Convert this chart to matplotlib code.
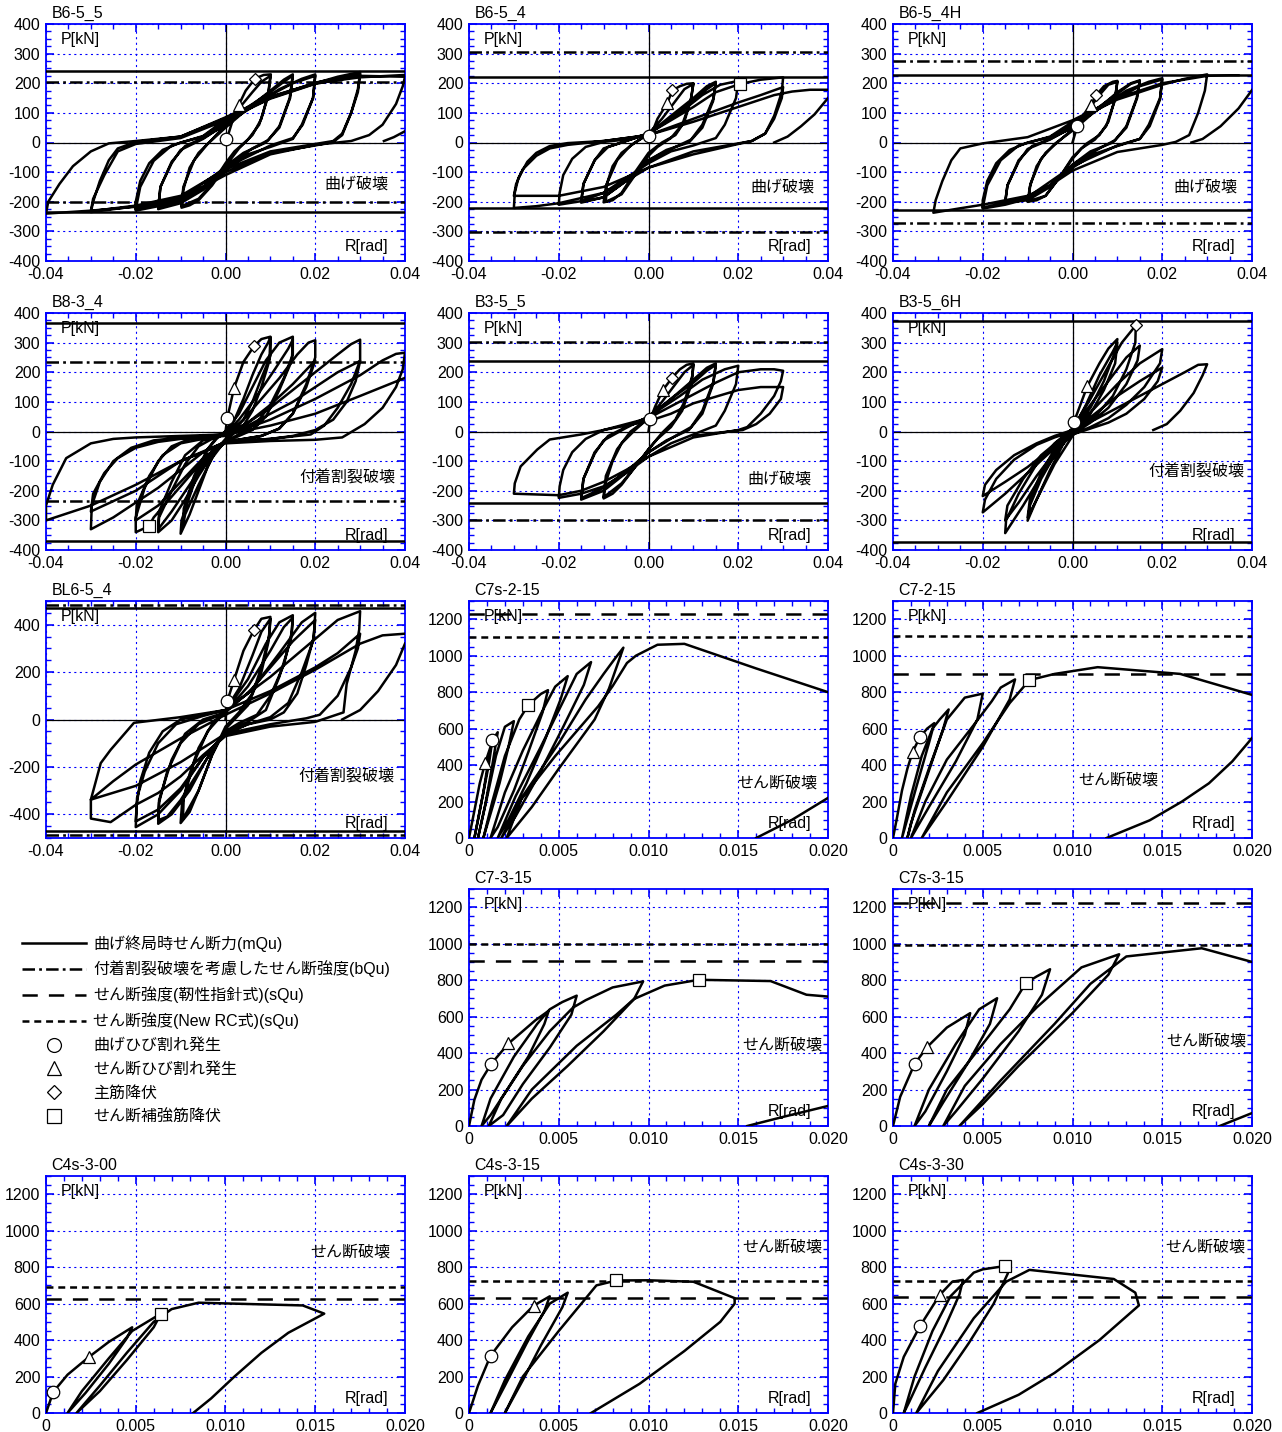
import numpy as np
import matplotlib
matplotlib.use("Agg")
import matplotlib.pyplot as plt
from matplotlib.ticker import MultipleLocator, FuncFormatter
from matplotlib.lines import Line2D

plt.rcParams['font.family'] = ['Liberation Sans', 'Noto Sans CJK JP', 'DejaVu Sans']
plt.rcParams['lines.scale_dashes'] = False
plt.rcParams['axes.unicode_minus'] = False

BRK = (np.nan, np.nan)

# ------------------------------------------------------------------ data
B6_5_5_curve = [
    (0, 0), (0.0003, 12), (0.0015, 70), (0.0029, 125), (0.0045, 175), (0.0066, 216), (0.0085, 228), (0.0101, 230),
    (0.0096, 170), (0.008, 80), (0.006, 25), (0.003, -20), (0, -80), (-0.003, -145), (-0.006, -195), (-0.008, -212), (-0.0098, -220),
    (-0.0094, -160), (-0.008, -85), (-0.006, -35), (-0.003, 10), (0, 60), (0.003, 115), (0.006, 170), (0.008, 205), (0.01, 225),
    (0.0094, 150), (0.0075, 60), (0.005, 10), (0.002, -30), (0, -70), (-0.003, -140), (-0.006, -190), (-0.0098, -215),
    (-0.0094, -150), (-0.007, -60), (-0.004, -5), (0, 50), (0.005, 115), (0.01, 175), (0.013, 212), (0.015, 230),
    (0.0143, 150), (0.012, 55), (0.0095, 8), (0.006, -20), (0, -85), (-0.005, -160), (-0.01, -205), (-0.015, -225),
    (-0.0145, -150), (-0.012, -65), (-0.009, -12), (-0.005, 15), (0, 60), (0.005, 120), (0.01, 170), (0.013, 205), (0.015, 226),
    (0.0144, 150), (0.012, 50), (0.009, 0), (0.004, -35), (0, -80), (-0.005, -150), (-0.01, -198), (-0.015, -220),
    (-0.0145, -150), (-0.012, -70), (-0.01, -25), (-0.005, 12), (0, 62), (0.007, 130), (0.012, 180), (0.017, 215), (0.02, 230),
    (0.0195, 150), (0.017, 60), (0.015, 12), (0.01, -15), (0.005, -40), (0, -92), (-0.005, -152), (-0.01, -195), (-0.015, -215), (-0.02, -230),
    (-0.02, -200), (-0.019, -130), (-0.017, -70), (-0.014, -25), (-0.01, 0), (-0.005, 20), (0, 72), (0.01, 160), (0.015, 200), (0.02, 225),
    (0.0195, 150), (0.0172, 60), (0.015, 15), (0.01, -10), (0, -85), (-0.01, -190), (-0.02, -226),
    (-0.019, -150), (-0.016, -62), (-0.012, -10), (-0.005, 22), (0, 78), (0.01, 150), (0.02, 200), (0.025, 222), (0.03, 238),
    (0.0295, 180), (0.028, 100), (0.026, 25), (0.024, 2), (0.02, -10), (0.01, -35), (0, -100), (-0.005, -150), (-0.01, -185),
    (-0.02, -215), (-0.025, -225), (-0.03, -235),
    (-0.0295, -200), (-0.028, -130), (-0.026, -60), (-0.024, -20), (-0.02, 2), (-0.01, 20), (0, 82), (0.01, 152), (0.02, 202), (0.03, 232),
    (0.0295, 170), (0.028, 100), (0.026, 30), (0.024, 5), (0.02, -5), (0.01, -30), (0, -90), (-0.01, -180), (-0.02, -213), (-0.03, -232),
    (-0.0295, -190), (-0.027, -110), (-0.024, -30), (-0.02, -5), (-0.01, 15), (0, 75), (0.01, 148), (0.02, 198), (0.03, 225), (0.04, 222),
    (0.0395, 190), (0.038, 130), (0.035, 60), (0.032, 25), (0.028, 5), (0.02, -8), (0.01, -40), (0, -110), (-0.01, -190),
    (-0.02, -217), (-0.03, -230), (-0.04, -240),
    (-0.0395, -200), (-0.037, -140), (-0.034, -80), (-0.03, -30), (-0.026, -3), (-0.02, 5), (-0.01, 20), (0, 85), (0.01, 155),
    (0.02, 200), (0.03, 220), (0.04, 228),
    BRK, (0.0353, 5), (0.0375, 18), (0.04, 38),
]
B6_5_5_marks = {'o': (0.0, 12), '^': (0.0029, 125), 'D': (0.0066, 216)}
B6_5_5_refs = [('mQu', 242), ('mQu', -236), ('bQu', 205), ('bQu', -201)]

B6_5_4_curve = [
    (0, 0), (0.0005, 22), (0.002, 80), (0.0042, 133), (0.0053, 176), (0.007, 190), (0.0085, 198), (0.01, 200),
    (0.0095, 150), (0.008, 70), (0.006, 25), (0.003, 0), (0, -35), (-0.003, -100), (-0.006, -170), (-0.008, -195), (-0.01, -202),
    (-0.0095, -150), (-0.008, -80), (-0.006, -35), (-0.003, 0), (0, 30), (0.003, 80), (0.006, 140), (0.008, 180), (0.01, 198),
    (0.0094, 140), (0.0075, 60), (0.005, 15), (0.002, -15), (0, -45), (-0.003, -110), (-0.006, -175), (-0.0095, -200),
    (-0.0093, -140), (-0.007, -60), (-0.004, -10), (0, 28), (0.005, 90), (0.01, 150), (0.013, 190), (0.015, 205),
    (0.0145, 150), (0.012, 60), (0.0095, 10), (0.006, -15), (0, -60), (-0.005, -130), (-0.01, -185), (-0.015, -203),
    (-0.0145, -140), (-0.012, -60), (-0.009, -15), (-0.005, 5), (0, 30), (0.005, 80), (0.01, 140), (0.013, 180), (0.015, 200),
    (0.0144, 140), (0.012, 50), (0.009, 0), (0.004, -25), (0, -60), (-0.005, -130), (-0.01, -185), (-0.015, -200),
    (-0.0145, -140), (-0.012, -60), (-0.01, -20), (-0.005, 5), (0, 30), (0.007, 100), (0.012, 160), (0.016, 195), (0.02, 208),
    (0.0195, 150), (0.017, 60), (0.015, 15), (0.01, -10), (0.005, -30), (0, -70), (-0.005, -120), (-0.01, -170), (-0.015, -198), (-0.02, -210),
    (-0.0198, -170), (-0.019, -110), (-0.017, -55), (-0.014, -15), (-0.01, 2), (-0.005, 10), (0, 30), (0.01, 120), (0.015, 170),
    (0.0203, 197), (0.025, 212), (0.03, 220),
    (0.0297, 170), (0.028, 90), (0.026, 30), (0.023, 5), (0.02, -3), (0.01, -30), (0, -85), (-0.005, -130), (-0.01, -170),
    (-0.02, -205), (-0.025, -215), (-0.03, -221),
    (-0.0298, -170), (-0.029, -120), (-0.027, -65), (-0.025, -35), (-0.022, -12), (-0.018, -2), (-0.01, 5), (0, 25), (0.01, 80),
    (0.02, 135), (0.025, 160), (0.03, 187),
    (0.0297, 150), (0.028, 80), (0.026, 30), (0.023, 5), (0.02, -5), (0.01, -40), (0, -85), (-0.01, -150), (-0.02, -180), (-0.03, -180),
    (-0.0295, -140), (-0.028, -90), (-0.025, -45), (-0.022, -20), (-0.018, -8), (-0.01, 5), (0, 25), (0.01, 70), (0.02, 120),
    (0.028, 160), (0.032, 172), (0.036, 178), (0.04, 178),
    BRK, (0.028, 0), (0.031, 20), (0.034, 55), (0.037, 95), (0.04, 150),
]
B6_5_4_marks = {'o': (0.0, 22), '^': (0.0042, 133), 'D': (0.0053, 176), 's': (0.0203, 197)}
B6_5_4_refs = [('mQu', 222), ('mQu', -220), ('bQu', 306), ('bQu', -301)]

B6_5_4H_curve = [
    (0, 0), (0.0011, 57), (0.0025, 95), (0.0041, 128), (0.0053, 160), (0.007, 190), (0.009, 205), (0.01, 208),
    (0.0095, 150), (0.008, 70), (0.006, 25), (0.003, -5), (0, -50), (-0.003, -120), (-0.006, -180), (-0.008, -195), (-0.01, -200),
    (-0.0095, -150), (-0.008, -80), (-0.006, -35), (-0.003, 5), (0, 45), (0.003, 100), (0.006, 160), (0.008, 195), (0.01, 205),
    (0.0094, 140), (0.0075, 55), (0.005, 10), (0.002, -20), (0, -55), (-0.003, -120), (-0.006, -180), (-0.0098, -198),
    (-0.0094, -140), (-0.007, -55), (-0.004, -5), (0, 40), (0.005, 105), (0.01, 170), (0.013, 200), (0.015, 210),
    (0.0143, 150), (0.012, 55), (0.0095, 8), (0.006, -20), (0, -75), (-0.005, -150), (-0.01, -195), (-0.015, -203),
    (-0.0145, -145), (-0.012, -60), (-0.009, -12), (-0.005, 12), (0, 50), (0.005, 110), (0.01, 165), (0.013, 198), (0.015, 208),
    (0.0144, 150), (0.012, 50), (0.009, 0), (0.004, -30), (0, -75), (-0.005, -145), (-0.01, -190), (-0.015, -200),
    (-0.0145, -145), (-0.012, -65), (-0.01, -22), (-0.005, 10), (0, 52), (0.007, 125), (0.012, 175), (0.017, 205), (0.02, 217),
    (0.0195, 150), (0.017, 60), (0.015, 12), (0.01, -12), (0.005, -38), (0, -85), (-0.005, -145), (-0.01, -190), (-0.015, -210), (-0.02, -223),
    (-0.02, -195), (-0.019, -130), (-0.017, -70), (-0.014, -25), (-0.01, 0), (-0.005, 18), (0, 62), (0.01, 150), (0.015, 190), (0.02, 213),
    (0.0195, 145), (0.0172, 55), (0.015, 12), (0.01, -10), (0, -80), (-0.01, -185), (-0.02, -220),
    (-0.019, -145), (-0.016, -60), (-0.012, -10), (-0.005, 20), (0, 70), (0.01, 145), (0.02, 195), (0.025, 215), (0.03, 230),
    (0.0295, 175), (0.028, 100), (0.026, 25), (0.023, 2), (0.02, -8), (0.01, -32), (0, -95), (-0.005, -145), (-0.01, -180),
    (-0.02, -210), (-0.025, -222), (-0.031, -237),
    (-0.0305, -195), (-0.029, -130), (-0.027, -60), (-0.025, -20), (-0.02, -3), (-0.01, 18), (0, 75), (0.01, 150), (0.02, 200),
    (0.03, 225), (0.035, 227), (0.037, 227),
    BRK, (0.0265, 0), (0.029, 12), (0.033, 55), (0.037, 115), (0.04, 177),
]
B6_5_4H_marks = {'o': (0.0011, 57), '^': (0.0041, 128), 'D': (0.0053, 160)}
B6_5_4H_refs = [('mQu', 227), ('mQu', -227), ('bQu', 274), ('bQu', -272)]

B8_3_4_curve = [
    (0, 0), (0.0004, 45), (0.0019, 147), (0.004, 235), (0.0064, 289), (0.008, 312), (0.01, 320),
    (0.01, 255), (0.008, 180), (0.006, 100), (0.004, 40), (0.002, 5), (0, -25), (-0.002, -60), (-0.004, -120), (-0.006, -200),
    (-0.008, -280), (-0.01, -345),
    (-0.0098, -300), (-0.008, -220), (-0.006, -130), (-0.004, -60), (-0.002, -20), (0, 0), (0.002, 40), (0.004, 110), (0.006, 190),
    (0.008, 260), (0.0095, 300), (0.01, 318),
    (0.0098, 240), (0.008, 150), (0.006, 70), (0.004, 20), (0.002, -5), (0, -30), (-0.003, -90), (-0.006, -180), (-0.009, -280), (-0.0095, -320),
    (-0.0093, -260), (-0.007, -150), (-0.004, -60), (-0.002, -25), (0, 0), (0.003, 60), (0.006, 150), (0.009, 240), (0.012, 300), (0.015, 320),
    (0.015, 260), (0.013, 180), (0.01, 90), (0.007, 30), (0.004, 0), (0, -35), (-0.003, -80), (-0.006, -150), (-0.009, -230),
    (-0.012, -300), (-0.015, -340),
    (-0.0148, -290), (-0.012, -200), (-0.009, -110), (-0.006, -50), (-0.003, -25), (0, -5), (0.003, 40), (0.007, 120), (0.011, 210),
    (0.014, 280), (0.015, 310),
    (0.0148, 240), (0.012, 140), (0.009, 50), (0.006, 5), (0.003, -15), (0, -35), (-0.004, -90), (-0.008, -180), (-0.012, -270), (-0.015, -330),
    (-0.0148, -270), (-0.012, -170), (-0.009, -80), (-0.005, -30), (0, -10), (0.004, 40), (0.008, 110), (0.012, 180), (0.016, 260),
    (0.0185, 300), (0.02, 308),
    (0.02, 250), (0.018, 160), (0.015, 60), (0.012, 10), (0.008, -15), (0, -35), (-0.004, -80), (-0.008, -150), (-0.012, -220),
    (-0.016, -290), (-0.0171, -320), (-0.02, -340),
    (-0.02, -290), (-0.018, -190), (-0.015, -100), (-0.012, -50), (-0.008, -25), (0, -10), (0.005, 30), (0.01, 90), (0.015, 160), (0.02, 240),
    (0.018, 150), (0.015, 60), (0.012, 10), (0.008, -15), (0, -35), (-0.005, -90), (-0.01, -170), (-0.015, -250), (-0.02, -300),
    (-0.0198, -250), (-0.017, -150), (-0.014, -80), (-0.01, -40), (-0.005, -25), (0, -12), (0.005, 30), (0.01, 80), (0.015, 140),
    (0.02, 200), (0.025, 260), (0.028, 295), (0.03, 310),
    (0.03, 240), (0.028, 160), (0.025, 80), (0.022, 20), (0.019, -10), (0.01, -25), (0, -35), (-0.005, -70), (-0.01, -130),
    (-0.015, -190), (-0.02, -240), (-0.025, -290), (-0.03, -330),
    (-0.0298, -250), (-0.028, -170), (-0.025, -100), (-0.021, -55), (-0.016, -30), (-0.01, -20), (0, -10), (0.005, 20), (0.01, 60),
    (0.015, 100), (0.02, 150), (0.025, 200), (0.03, 238),
    (0.029, 170), (0.027, 100), (0.024, 40), (0.02, 5), (0.015, -15), (0.01, -25), (0, -35), (-0.01, -100), (-0.02, -200), (-0.03, -270),
    (-0.0295, -210), (-0.027, -140), (-0.024, -90), (-0.02, -55), (-0.015, -35), (-0.01, -25), (0, -15), (0.01, 40), (0.02, 110),
    (0.03, 190), (0.035, 240), (0.038, 262), (0.04, 266),
    (0.0395, 210), (0.038, 150), (0.035, 80), (0.031, 25), (0.026, -20), (0.02, -28), (0.01, -32), (0, -40), (-0.01, -100),
    (-0.02, -180), (-0.03, -250), (-0.04, -300),
    (-0.04, -250), (-0.0385, -180), (-0.0355, -90), (-0.03, -40), (-0.025, -25), (-0.02, -20), (-0.01, -15), (0, -10), (0.01, 20),
    (0.02, 60), (0.03, 120), (0.04, 181),
]
B8_3_4_marks = {'o': (0.0004, 45), '^': (0.0019, 147), 'D': (0.0064, 289), 's': (-0.0171, -320)}
B8_3_4_refs = [('mQu', 367), ('mQu', -368), ('bQu', 236), ('bQu', -234)]

B3_5_5_curve = [
    (0, 0), (0.0004, 42), (0.0015, 85), (0.0032, 140), (0.0053, 182), (0.007, 210), (0.0085, 225), (0.01, 230),
    (0.0098, 190), (0.008, 100), (0.006, 40), (0.003, -5), (0, -60), (-0.003, -120), (-0.006, -180), (-0.008, -210), (-0.01, -226),
    (-0.0097, -180), (-0.008, -100), (-0.006, -40), (-0.003, 5), (0, 45), (0.003, 100), (0.006, 160), (0.008, 200), (0.01, 225),
    (0.0096, 160), (0.0075, 70), (0.005, 15), (0.002, -25), (0, -60), (-0.003, -120), (-0.006, -175), (-0.01, -222),
    (-0.0095, -150), (-0.007, -60), (-0.004, 0), (0, 45), (0.005, 110), (0.01, 175), (0.013, 215), (0.015, 230),
    (0.0145, 170), (0.012, 70), (0.0095, 15), (0.006, -15), (0, -70), (-0.005, -140), (-0.01, -200), (-0.015, -230),
    (-0.0145, -160), (-0.012, -70), (-0.009, -15), (-0.005, 15), (0, 50), (0.005, 110), (0.01, 165), (0.013, 205), (0.015, 225),
    (0.0144, 160), (0.012, 60), (0.009, 5), (0.004, -30), (0, -70), (-0.005, -135), (-0.01, -190), (-0.015, -225),
    (-0.0145, -160), (-0.012, -75), (-0.01, -30), (-0.005, 12), (0, 50), (0.007, 120), (0.012, 175), (0.017, 210), (0.02, 222),
    (0.0195, 160), (0.017, 70), (0.015, 20), (0.01, -10), (0.005, -40), (0, -85), (-0.005, -140), (-0.01, -185), (-0.015, -210), (-0.02, -224),
    (-0.0198, -185), (-0.019, -130), (-0.017, -70), (-0.014, -25), (-0.01, 5), (-0.005, 25), (0, 45), (0.01, 125), (0.015, 165),
    (0.02, 200), (0.025, 210), (0.028, 210), (0.03, 205),
    (0.0295, 170), (0.028, 120), (0.025, 60), (0.022, 15), (0.02, 5), (0.01, -20), (0, -85), (-0.005, -130), (-0.01, -170),
    (-0.015, -200), (-0.02, -215), (-0.03, -210),
    (-0.0298, -175), (-0.0285, -118), (-0.0248, -61), (-0.022, -27), (-0.015, -10), (-0.01, 5), (0, 35), (0.005, 60), (0.01, 95),
    (0.02, 140), (0.025, 150), (0.03, 150),
    (0.0295, 110), (0.027, 60), (0.024, 25), (0.021, 5), (0.015, -5), (0.01, -15),
]
B3_5_5_marks = {'o': (0.0004, 42), '^': (0.0032, 140), 'D': (0.0053, 182)}
B3_5_5_refs = [('mQu', 239), ('mQu', -240), ('bQu', 303), ('bQu', -299)]

B3_5_6H_curve = [
    (0, 0), (0.0003, 31), (0.0033, 153), (0.006, 230), (0.008, 280), (0.01, 312),
    (0.0095, 270), (0.007, 170), (0.004, 80), (0.001, 20), (0, 0), (-0.002, -40), (-0.005, -130), (-0.008, -230), (-0.01, -301),
    (-0.0095, -250), (-0.007, -160), (-0.004, -80), (-0.001, -20), (0, 5), (0.003, 90), (0.006, 190), (0.009, 270), (0.01, 300),
    (0.0095, 230), (0.007, 140), (0.004, 60), (0, -15), (-0.004, -110), (-0.008, -230), (-0.01, -290),
    (-0.0095, -230), (-0.007, -140), (-0.004, -60), (0, 10), (0.004, 110), (0.008, 220), (0.011, 300), (0.0141, 358),
    (0.014, 300), (0.012, 210), (0.009, 120), (0.005, 50), (0.001, 10), (0, 0), (-0.003, -60), (-0.007, -150), (-0.011, -250), (-0.015, -343),
    (-0.0148, -300), (-0.012, -210), (-0.008, -110), (-0.004, -40), (0, 10), (0.004, 90), (0.008, 170), (0.012, 250), (0.015, 290),
    (0.0145, 240), (0.012, 160), (0.008, 80), (0.004, 30), (0, -10), (-0.004, -70), (-0.008, -150), (-0.012, -240), (-0.015, -300),
    (-0.0145, -250), (-0.011, -160), (-0.007, -80), (-0.003, -30), (0, 5), (0.005, 80), (0.01, 160), (0.015, 230), (0.02, 278),
    (0.0195, 230), (0.016, 150), (0.012, 90), (0.008, 45), (0.004, 15), (0, -10), (-0.005, -70), (-0.01, -140), (-0.015, -210), (-0.02, -273),
    (-0.0195, -230), (-0.017, -160), (-0.013, -95), (-0.008, -45), (-0.004, -20), (0, 0), (0.005, 60), (0.01, 120), (0.015, 170), (0.02, 216),
    (0.019, 170), (0.016, 110), (0.012, 60), (0.008, 30), (0.004, 10), (0, -10), (-0.005, -60), (-0.01, -120), (-0.015, -170), (-0.02, -218),
    (-0.0195, -180), (-0.017, -130), (-0.013, -80), (-0.008, -40), (-0.004, -15), (0, 5), (0.005, 40), (0.01, 80), (0.015, 120),
    (0.02, 160), (0.025, 200), (0.028, 225), (0.03, 227),
    (0.029, 190), (0.027, 130), (0.024, 70), (0.021, 25), (0.018, 5),
]
B3_5_6H_marks = {'o': (0.0003, 31), '^': (0.0033, 153), 'D': (0.0141, 358)}
B3_5_6H_refs = [('mQu', 372), ('mQu', -372)]

BL6_5_4_curve = [
    (0, 0), (0.0004, 78), (0.0019, 166), (0.004, 290), (0.0063, 376), (0.008, 425), (0.01, 433),
    (0.0098, 360), (0.008, 220), (0.006, 110), (0.003, 30), (0, -30), (-0.003, -150), (-0.006, -300), (-0.008, -390), (-0.01, -437),
    (-0.0097, -360), (-0.008, -230), (-0.006, -120), (-0.003, -20), (0, 40), (0.003, 130), (0.006, 270), (0.008, 370), (0.01, 425),
    (0.0096, 330), (0.008, 200), (0.005, 60), (0.002, 0), (0, -40), (-0.003, -150), (-0.006, -300), (-0.0095, -420),
    (-0.0093, -330), (-0.007, -180), (-0.004, -50), (0, 35), (0.005, 170), (0.009, 320), (0.012, 410), (0.015, 440),
    (0.0148, 370), (0.013, 230), (0.01, 100), (0.007, 20), (0.003, -15), (0, -50), (-0.004, -160), (-0.008, -300), (-0.012, -400), (-0.015, -440),
    (-0.0148, -350), (-0.013, -220), (-0.01, -100), (-0.006, -20), (0, 30), (0.005, 140), (0.01, 290), (0.013, 390), (0.015, 430),
    (0.0146, 340), (0.012, 180), (0.009, 40), (0.005, -10), (0, -50), (-0.005, -190), (-0.01, -340), (-0.013, -410), (-0.015, -425),
    (-0.0148, -340), (-0.012, -170), (-0.009, -60), (-0.005, 0), (0, 30), (0.006, 130), (0.012, 280), (0.017, 410), (0.02, 450),
    (0.0197, 350), (0.018, 230), (0.016, 110), (0.013, 30), (0.01, 0), (0.005, -20), (0, -60), (-0.005, -160), (-0.01, -300),
    (-0.015, -400), (-0.02, -454),
    (-0.0198, -360), (-0.019, -260), (-0.017, -140), (-0.014, -50), (-0.01, 0), (-0.005, 20), (0, 40), (0.005, 110), (0.01, 220),
    (0.015, 330), (0.02, 420),
    (0.0195, 330), (0.017, 200), (0.014, 70), (0.01, 10), (0.005, -20), (0, -60), (-0.005, -160), (-0.01, -290), (-0.015, -380), (-0.02, -430),
    (-0.0197, -330), (-0.018, -220), (-0.015, -100), (-0.011, -20), (-0.005, 15), (0, 40), (0.01, 180), (0.02, 340), (0.025, 420), (0.03, 457),
    (0.0298, 380), (0.029, 290), (0.027, 150), (0.0263, 30), (0.02, -10), (0.01, -30), (0, -70), (-0.005, -150), (-0.01, -240),
    (-0.015, -310), (-0.02, -360), (-0.0256, -433), (-0.03, -418),
    (-0.03, -338), (-0.0278, -184), (-0.0256, -128), (-0.0204, -14), (-0.01, 10), (0, 40), (0.01, 120), (0.02, 220), (0.025, 280), (0.03, 362),
    (0.0295, 300), (0.028, 220), (0.025, 100), (0.021, 20), (0.018, 5), (0.01, -20), (0, -60), (-0.01, -180), (-0.02, -280), (-0.03, -338),
    (-0.025, -260), (-0.02, -190), (-0.01, -80), (0, 20), (0.01, 110), (0.02, 210), (0.03, 320), (0.035, 355), (0.04, 362),
    BRK, (0.026, 0), (0.03, 40), (0.034, 120), (0.038, 230), (0.04, 320),
]
BL6_5_4_marks = {'o': (0.0004, 78), '^': (0.0019, 166), 'D': (0.0063, 376)}
BL6_5_4_refs = [('mQu', 472), ('mQu', -472), ('bQu', 485), ('bQu', -487)]

C7s_2_15_curve = [
    (0, 0), (0.0003, 150), (0.0006, 300), (0.0009, 412), (0.0012, 500), (0.0008, 250), (0.0003, 0),
    (0.0007, 200), (0.0011, 400), (0.0013, 535), (0.0016, 580), (0.0013, 400), (0.0009, 180), (0.0005, 0),
    (0.001, 220), (0.0015, 450), (0.002, 610), (0.0025, 641), (0.0022, 500), (0.0017, 300), (0.0011, 100), (0.0008, 0),
    (0.0013, 200), (0.002, 450), (0.0028, 650), (0.0033, 729), (0.004, 790), (0.0044, 811),
    (0.0041, 690), (0.0033, 470), (0.0025, 260), (0.0016, 60), (0.0012, 0),
    (0.002, 250), (0.003, 480), (0.004, 680), (0.0048, 830), (0.0055, 888),
    (0.0051, 760), (0.0042, 530), (0.0032, 300), (0.0022, 100), (0.0016, 0),
    (0.0026, 230), (0.004, 500), (0.0052, 740), (0.006, 900), (0.0068, 965),
    (0.0064, 840), (0.0052, 600), (0.0038, 330), (0.0026, 120), (0.0018, 0),
    (0.003, 230), (0.005, 520), (0.0065, 760), (0.0075, 900), (0.0081, 980), (0.0086, 1044),
    (0.0083, 960), (0.0078, 820), (0.007, 650), (0.005, 380), (0.0035, 170), (0.0021, 0),
    (0.0029, 211), (0.0048, 449), (0.0072, 723), (0.008, 833), (0.0088, 960), (0.0093, 1000), (0.0105, 1060),
    (0.012, 1065), (0.016, 930), (0.02, 800),
    BRK, (0.016, 0), (0.018, 100), (0.02, 220),
]
C7s_2_15_marks = {'^': (0.0009, 412), 'o': (0.0013, 535), 's': (0.0033, 729)}
C7s_2_15_refs = [('sQu_j', 1226), ('sQu_n', 1105)]

C7_2_15_curve = [
    (0, 0), (0.0002, 100), (0.0005, 260), (0.0008, 380), (0.0011, 474), (0.0015, 553), (0.0019, 600), (0.0023, 630),
    (0.002, 520), (0.0013, 280), (0.0005, 0),
    (0.001, 230), (0.0016, 450), (0.0022, 600), (0.0026, 650), (0.0031, 705),
    (0.0028, 600), (0.0019, 340), (0.001, 80), (0.0008, 0),
    (0.0012, 150), (0.002, 380), (0.003, 650), (0.004, 770), (0.005, 792),
    (0.0047, 650), (0.0035, 420), (0.002, 170), (0.001, 0),
    (0.0018, 200), (0.003, 430), (0.0045, 620), (0.0055, 750), (0.006, 825), (0.0068, 870),
    (0.0065, 760), (0.005, 500), (0.003, 200), (0.0016, 0),
    (0.003, 250), (0.005, 520), (0.0065, 740), (0.0076, 866), (0.009, 900), (0.0114, 937), (0.016, 900), (0.02, 785),
    BRK, (0.0119, 0), (0.0143, 97), (0.0161, 200), (0.0176, 300), (0.0189, 420), (0.02, 548),
]
C7_2_15_marks = {'^': (0.0011, 474), 'o': (0.0015, 553), 's': (0.0076, 866)}
C7_2_15_refs = [('sQu_n', 1108), ('sQu_j', 900)]

C7_3_15_curve = [
    (0, 0), (0.0003, 144), (0.0007, 254), (0.00124, 341), (0.0022, 453), (0.0029, 512), (0.0037, 580), (0.00444, 632),
    (0.0042, 560), (0.0033, 380), (0.002, 180), (0.0012, 60), (0.0007, 0),
    (0.0012, 150), (0.0025, 380), (0.0038, 560), (0.0045, 640), (0.0052, 680), (0.006, 715),
    (0.0057, 610), (0.0045, 430), (0.003, 230), (0.0019, 60), (0.0011, 0),
    (0.0018, 150), (0.003, 330), (0.0045, 520), (0.0058, 650), (0.0065, 690), (0.008, 760), (0.0097, 793),
    (0.0092, 697), (0.0075, 520), (0.0055, 330), (0.0035, 150), (0.0021, 0),
    (0.0035, 200), (0.006, 440), (0.0082, 610), (0.0092, 697), (0.0109, 770), (0.0128, 802), (0.0168, 795), (0.0188, 720), (0.02, 710),
    BRK, (0.0155, 0), (0.0175, 50), (0.02, 110),
]
C7_3_15_marks = {'o': (0.00124, 341), '^': (0.0022, 453), 's': (0.0128, 802)}
C7_3_15_refs = [('sQu_n', 1001), ('sQu_j', 903)]

C7s_3_15_curve = [
    (0, 0), (0.0004, 160), (0.0012, 340), (0.0019, 433), (0.003, 540), (0.0043, 619),
    (0.004, 500), (0.003, 300), (0.0018, 80), (0.0012, 0),
    (0.002, 200), (0.0035, 450), (0.0048, 640), (0.0058, 701),
    (0.0054, 560), (0.0042, 350), (0.0028, 130), (0.002, 0),
    (0.003, 200), (0.005, 450), (0.0065, 640), (0.0074, 784), (0.008, 820), (0.00875, 860),
    (0.0083, 720), (0.007, 520), (0.005, 260), (0.0035, 80), (0.0028, 0),
    (0.004, 220), (0.006, 450), (0.008, 650), (0.0105, 870), (0.0126, 942),
    (0.012, 830), (0.01, 620), (0.007, 330), (0.005, 120), (0.0037, 0),
    (0.006, 250), (0.009, 560), (0.011, 780), (0.013, 930), (0.0172, 975), (0.02, 900),
    BRK, (0.0182, 0), (0.02, 71),
]
C7s_3_15_marks = {'o': (0.0012, 340), '^': (0.0019, 433), 's': (0.0074, 784)}
C7s_3_15_refs = [('sQu_j', 1222), ('sQu_n', 992)]

C4s_3_00_curve = [
    (0, 0), (0.0004, 115), (0.0012, 210), (0.0024, 308), (0.0035, 390), (0.0048, 470),
    (0.0045, 410), (0.0035, 270), (0.0022, 110), (0.0012, 0),
    (0.002, 120), (0.0035, 300), (0.0048, 450), (0.0064, 545),
    (0.006, 470), (0.0045, 290), (0.003, 120), (0.0017, 0),
    (0.003, 150), (0.0045, 330), (0.006, 500), (0.007, 570), (0.0085, 605), (0.0143, 590), (0.0155, 545),
    (0.0135, 440), (0.012, 330), (0.0105, 200), (0.0092, 80), (0.0082, 0),
]
C4s_3_00_marks = {'o': (0.0004, 115), '^': (0.0024, 308), 's': (0.0064, 545)}
C4s_3_00_refs = [('sQu_n', 693), ('sQu_j', 627)]

C4s_3_15_curve = [
    (0, 0), (0.0005, 150), (0.0012, 314), (0.0024, 470), (0.0036, 589), (0.0045, 640),
    (0.0042, 560), (0.0032, 380), (0.002, 150), (0.0012, 0),
    (0.002, 180), (0.0033, 420), (0.0045, 600), (0.0055, 660),
    (0.0052, 580), (0.004, 370), (0.003, 180), (0.002, 0),
    (0.003, 200), (0.005, 450), (0.0071, 700), (0.0082, 727), (0.01, 728), (0.0125, 720), (0.0148, 630), (0.0148, 600),
    (0.014, 500), (0.012, 340), (0.0095, 160), (0.0068, 0),
]
C4s_3_15_marks = {'o': (0.0012, 314), '^': (0.0036, 589), 's': (0.0082, 727)}
C4s_3_15_refs = [('sQu_n', 726), ('sQu_j', 633)]

C4s_3_30_curve = [
    (0, 0), (0.00013, 161), (0.0006, 308), (0.0015, 476), (0.0026, 647), (0.0033, 720), (0.0039, 730),
    (0.0037, 650), (0.0028, 450), (0.0018, 250), (0.0009, 60), (0.0006, 0),
    (0.0012, 200), (0.0022, 450), (0.0032, 640), (0.0039, 710), (0.0045, 770), (0.005, 788), (0.00623, 806), (0.0064, 766),
    (0.0056, 598), (0.0042, 380), (0.0028, 180), (0.0013, 0),
    (0.0025, 230), (0.0045, 520), (0.0063, 720), (0.0076, 785), (0.0123, 735), (0.0135, 660), (0.0137, 590),
    (0.0115, 400), (0.009, 220), (0.007, 100), (0.0047, 0),
]
C4s_3_30_marks = {'o': (0.0015, 476), '^': (0.0026, 647), 's': (0.00623, 806)}
C4s_3_30_refs = [('sQu_n', 725), ('sQu_j', 634)]

legend_labels = ['曲げ終局時せん断力(mQu)', '付着割裂破壊を考慮したせん断強度(bQu)',
                 'せん断強度(靭性指針式)(sQu)', 'せん断強度(New RC式)(sQu)',
                 '曲げひび割れ発生', 'せん断ひび割れ発生', '主筋降伏', 'せん断補強筋降伏']

# panels: (row, col, kind, title, curve, marks, refs, failure text, failure pos)
panels = [
    (0, 0, 'B', 'B6-5_5', B6_5_5_curve, B6_5_5_marks, B6_5_5_refs, '曲げ破壊', (0.955, 0.325)),
    (0, 1, 'B', 'B6-5_4', B6_5_4_curve, B6_5_4_marks, B6_5_4_refs, '曲げ破壊', (0.962, 0.31)),
    (0, 2, 'B', 'B6-5_4H', B6_5_4H_curve, B6_5_4H_marks, B6_5_4H_refs, '曲げ破壊', (0.96, 0.31)),
    (1, 0, 'B', 'B8-3_4', B8_3_4_curve, B8_3_4_marks, B8_3_4_refs, '付着割裂破壊', (0.972, 0.305)),
    (1, 1, 'B', 'B3-5_5', B3_5_5_curve, B3_5_5_marks, B3_5_5_refs, '曲げ破壊', (0.955, 0.30)),
    (1, 2, 'B', 'B3-5_6H', B3_5_6H_curve, B3_5_6H_marks, B3_5_6H_refs, '付着割裂破壊', (0.98, 0.33)),
    (2, 0, 'BL', 'BL6-5_4', BL6_5_4_curve, BL6_5_4_marks, BL6_5_4_refs, '付着割裂破壊', (0.97, 0.26)),
    (2, 1, 'C', 'C7s-2-15', C7s_2_15_curve, C7s_2_15_marks, C7s_2_15_refs, 'せん断破壊', (0.97, 0.23)),
    (2, 2, 'C', 'C7-2-15', C7_2_15_curve, C7_2_15_marks, C7_2_15_refs, 'せん断破壊', (0.74, 0.245)),
    (3, 1, 'C', 'C7-3-15', C7_3_15_curve, C7_3_15_marks, C7_3_15_refs, 'せん断破壊', (0.985, 0.34)),
    (3, 2, 'C', 'C7s-3-15', C7s_3_15_curve, C7s_3_15_marks, C7s_3_15_refs, 'せん断破壊', (0.985, 0.36)),
    (4, 0, 'C', 'C4s-3-00', C4s_3_00_curve, C4s_3_00_marks, C4s_3_00_refs, 'せん断破壊', (0.958, 0.68)),
    (4, 1, 'C', 'C4s-3-15', C4s_3_15_curve, C4s_3_15_marks, C4s_3_15_refs, 'せん断破壊', (0.983, 0.70)),
    (4, 2, 'C', 'C4s-3-30', C4s_3_30_curve, C4s_3_30_marks, C4s_3_30_refs, 'せん断破壊', (0.98, 0.70)),
]

# ------------------------------------------------------------------ styles / layout
W, H = 1282, 1432
COL_LEFT = [46, 469, 893]
ROW_TOP = [24, 313, 601, 889, 1176]
AX_W, AX_H = 359, 237

REF_STYLE = {
    'mQu': dict(ls='-', lw=1.8),
    'bQu': dict(ls=(0, (9, 3, 2, 3)), lw=1.8),
    'sQu_j': dict(ls=(0, (11, 8)), lw=1.8),
    'sQu_n': dict(ls=(0, (5, 3.5)), lw=1.8),
}
MARK_SIZE = {'o': 9, '^': 9, 'D': 6.5, 's': 9}
BLUE = '#0000ff'

fig = plt.figure(figsize=(W / 100, H / 100), dpi=100)


def style_axes(ax):
    for sp in ax.spines.values():
        sp.set_color(BLUE)
        sp.set_linewidth(1.3)
    ax.tick_params(which='both', direction='in', top=True, right=True,
                   color=BLUE, labelcolor='black', labelsize=11.5, pad=4)
    ax.tick_params(which='major', length=6, width=1.2)
    ax.tick_params(which='minor', length=3.5, width=1.0)
    ax.set_axisbelow(True)
    ax.grid(True, which='major', color=BLUE, ls=(0, (1.5, 2.5)), lw=0.8)


for row, col, kind, title, curve, marks, refs, fail, fpos in panels:
    left, top = COL_LEFT[col], ROW_TOP[row]
    ax = fig.add_axes([left / W, 1 - (top + AX_H) / H, AX_W / W, AX_H / H])
    style_axes(ax)
    c = np.array(curve, dtype=float)
    if kind in ('B', 'BL'):
        ax.set_xlim(-0.04, 0.04)
        ax.xaxis.set_major_locator(MultipleLocator(0.02))
        ax.xaxis.set_minor_locator(MultipleLocator(0.005))
        ax.xaxis.set_major_formatter(FuncFormatter(lambda v, _: f'{v:.2f}'))
        if kind == 'B':
            ax.set_ylim(-400, 400)
            ax.yaxis.set_major_locator(MultipleLocator(100))
            ax.yaxis.set_minor_locator(MultipleLocator(25))
        else:
            ax.set_ylim(-500, 500)
            ax.yaxis.set_major_locator(MultipleLocator(200))
            ax.yaxis.set_minor_locator(MultipleLocator(50))
        ax.axhline(0, color='black', lw=0.9, zorder=2)
        ax.axvline(0, color='black', lw=0.9, zorder=2)
    else:
        ax.set_xlim(0, 0.02)
        ax.set_ylim(0, 1300)
        ax.xaxis.set_major_locator(MultipleLocator(0.005))
        ax.xaxis.set_minor_locator(MultipleLocator(0.001))
        ax.xaxis.set_major_formatter(FuncFormatter(lambda v, _: '0' if abs(v) < 1e-12 else f'{v:.3f}'))
        ax.yaxis.set_major_locator(MultipleLocator(200))
        ax.yaxis.set_minor_locator(MultipleLocator(50))
    ax.yaxis.set_major_formatter(FuncFormatter(lambda v, _: f'{v:.0f}'))

    for name, val in refs:
        ax.axhline(val, color='black', zorder=3, **REF_STYLE[name])
    ax.plot(c[:, 0], c[:, 1], color='black', lw=1.8, zorder=4, solid_joinstyle='round')
    for m, (x, y) in marks.items():
        ax.plot([x], [y], ls='none', marker=m, ms=MARK_SIZE[m], mfc='white', mec='black',
                mew=0.9, zorder=6)

    ax.text(0.015, 1.012, title, transform=ax.transAxes, ha='left', va='bottom', fontsize=11.5)
    ax.text(0.04, 0.935, 'P[kN]', transform=ax.transAxes, ha='left', va='center', fontsize=11.5, zorder=7)
    ax.text(0.955, 0.06, 'R[rad]', transform=ax.transAxes, ha='right', va='center', fontsize=11.5, zorder=7)
    ax.text(fpos[0], fpos[1], fail, transform=ax.transAxes, ha='right', va='center', fontsize=11.5, zorder=7)

# ------------------------------------------------------------------ legend
handles = [
    Line2D([], [], color='black', **REF_STYLE['mQu']),
    Line2D([], [], color='black', **REF_STYLE['bQu']),
    Line2D([], [], color='black', **REF_STYLE['sQu_j']),
    Line2D([], [], color='black', **REF_STYLE['sQu_n']),
    Line2D([], [], ls='none', marker='o', ms=10, mfc='white', mec='black', mew=0.9),
    Line2D([], [], ls='none', marker='^', ms=10, mfc='white', mec='black', mew=0.9),
    Line2D([], [], ls='none', marker='D', ms=7, mfc='white', mec='black', mew=0.9),
    Line2D([], [], ls='none', marker='s', ms=10, mfc='white', mec='black', mew=0.9),
]
fig.legend(handles, legend_labels, loc='upper left', bbox_to_anchor=(22 / W, 1 - 935 / H),
           frameon=False, fontsize=11.5, handlelength=4.0, handletextpad=0.45,
           labelspacing=0.56, borderpad=0, borderaxespad=0)

fig.savefig('out.png', dpi=100)
